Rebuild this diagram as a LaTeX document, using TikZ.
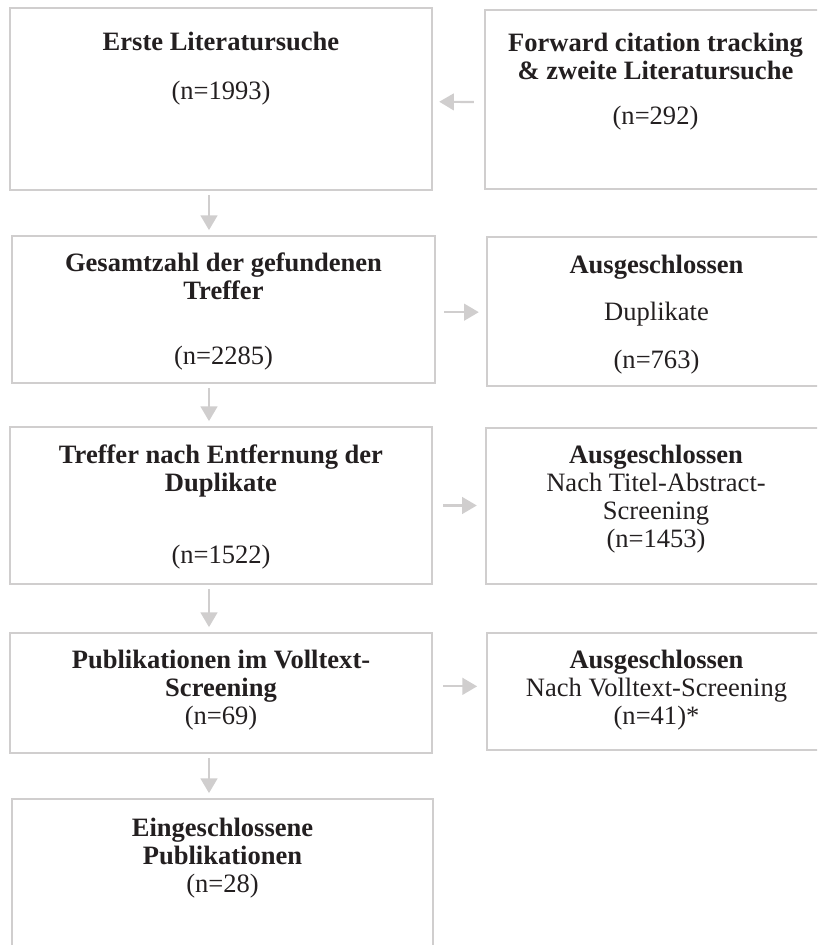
\documentclass[tikz,border=0pt]{standalone}
\usepackage{fontspec}
\setmainfont{Liberation Serif}
\usetikzlibrary{arrows.meta,positioning,fit}
\definecolor{frame}{RGB}{208,206,206}
\definecolor{ink}{RGB}{35,31,32}
\begin{document}
\begin{tikzpicture}[x=0.75pt,y=-0.75pt,>={Triangle[width=12.5pt,length=11pt]},font=\fontsize{19.9pt}{21pt}\selectfont]
\tikzstyle{box}=[draw=frame,line width=1.8pt,inner sep=0pt]
\tikzstyle{txt}=[align=center,inner sep=0pt,text=ink]
\tikzstyle{arr}=[->,draw=frame,line width=1.6pt]
\clip (0,0) rectangle (817,945);
\coordinate (ax) at (209,0);
% left column
\node[box,fit={(10,8) (432,190)}] (b1) {};
\node[box,fit={(12,236) (435,383)}] (b2) {};
\node[box,fit={(10,427) (432,584)}] (b3) {};
\node[box,fit={(10,633) (432,753)}] (b4) {};
\node[box,fit={(12,799) (433,1000)}] (b5) {};
% right column
\node[box,fit={(485,10) (826,189)}] (f1) {};
\node[box,fit={(487,237) (826,386)}] (e2) {};
\node[box,fit={(486,428) (826,584)}] (e3) {};
\node[box,fit={(487,633) (826,750)}] (e4) {};
% texts
\node[txt,below=18.75pt of b1.north] (t1) {\textbf{Erste Literatursuche}\\[15.5pt](n=1993)};
\node[txt,below=13.5pt of b2.north] (t2) {\textbf{Gesamtzahl der gefundenen}\\\textbf{Treffer}\\[27.5pt](n=2285)};
\node[txt,below=14.25pt of b3.north] (t3) {\textbf{Treffer nach Entfernung der}\\\textbf{Duplikate}\\[33pt](n=1522)};
\node[txt,below=13.5pt of b4.north] (t4) {\textbf{Publikationen im Volltext-}\\\textbf{Screening}\\(n=69)};
\node[txt,below=15pt of b5.north] (t5) {\textbf{Eingeschlossene}\\\textbf{Publikationen}\\(n=28)};
\node[txt,below=18pt of f1.north] (tf) {\textbf{Forward citation tracking}\\\textbf{\& zweite Literatursuche}\\[13pt](n=292)};
\node[txt,below=14.25pt of e2.north] (u2) {\textbf{Ausgeschlossen}\\[14.5pt]Duplikate\\[14.5pt](n=763)};
\node[txt,below=13.5pt of e3.north] (u3) {\textbf{Ausgeschlossen}\\Nach Titel-Abstract-\\Screening\\(n=1453)};
\node[txt,below=13.5pt of e4.north] (u4) {\textbf{Ausgeschlossen}\\Nach Volltext-Screening\\(n=41)*};
% arrows
\draw[arr,shorten <=7.5pt,shorten >=4.5pt] ([yshift=-2pt]f1.west) -- ([yshift=-2pt]b1.east);
\foreach \a/\b in {b1/b2,b2/b3,b3/b4,b4/b5} \draw[arr,shorten <=3pt,shorten >=3.5pt] (\a.south -| ax) -- (\b.north -| ax);
\draw[arr,shorten <=6pt,shorten >=5.25pt] ([yshift=-2pt]b2.east) -- ([yshift=-2pt]b2.east -| e2.west);
\draw[arr,shorten <=7.5pt,shorten >=6pt] (b3.east) -- (b3.east -| e3.west);
\draw[arr,shorten <=7.5pt,shorten >=6.5pt] ([yshift=5pt]b4.east) -- ([yshift=5pt]b4.east -| e4.west);
\end{tikzpicture}
\end{document}
